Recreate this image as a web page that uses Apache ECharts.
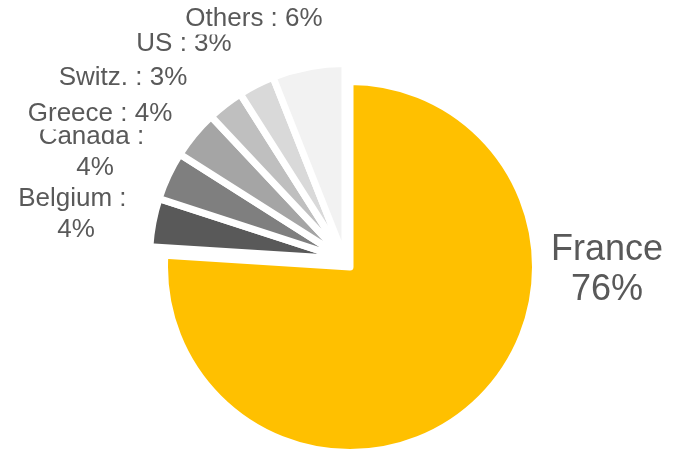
<!DOCTYPE html>
<html>
<head>
<meta charset="utf-8">
<script src="https://cdn.jsdelivr.net/npm/echarts@6/dist/echarts.min.js"></script>
<style>
  html, body { margin: 0; background: #fff; }
  #main { width: 679px; height: 449px; }
</style>
</head>
<body>
<div id="main"></div>
<script>
// data
const countries = ['France', 'Belgium', 'Canada', 'Greece', 'Switz.', 'US', 'Others'];
const shares = [76, 4, 4, 4, 3, 3, 6];
const colors = ['#FFC000', '#595959', '#7F7F7F', '#A5A5A5', '#BFBFBF', '#D9D9D9', '#F2F2F2'];
// label centres as placed in the reference
const labelSpots = [[607, 270], [76, 214], [95, 152], [100, 114], [123, 78], [184, 44], [254, 19]];

const chart = echarts.init(document.getElementById('main'));

// France is drawn by one ring, the small countries by a second (shifted) ring
function buildData(franceRing) {
  return countries.map((name, i) => {
    const item = { name: name, value: shares[i] };
    if ((i === 0) !== franceRing) {
      item.itemStyle = { color: 'rgba(0,0,0,0)', borderWidth: 0 };
      item.label = { show: false };
      return item;
    }
    item.itemStyle = { color: colors[i] };
    return item;
  });
}

const baseSeries = {
  type: 'pie',
  startAngle: 90,
  clockwise: true,
  silent: true,
  avoidLabelOverlap: false,
  emphasis: { disabled: true },
  itemStyle: { borderColor: '#fff', borderWidth: 7 },
  labelLine: { show: false },
  labelLayout: function (p) {
    const s = labelSpots[p.dataIndex];
    return { x: s[0], y: s[1], align: 'center', verticalAlign: 'middle' };
  }
};

chart.setOption({
  animation: false,
  series: [
    Object.assign({}, baseSeries, {
      center: [350, 267],
      radius: 185.5,
      label: {
        position: 'outside',
        color: '#595959',
        fontFamily: 'Liberation Sans, Arial, sans-serif',
        fontSize: 36,
        lineHeight: 40,
        align: 'center',
        formatter: p => p.name + '\n' + Math.round(p.percent) + '%'
      },
      data: buildData(true)
    }),
    Object.assign({}, baseSeries, {
      center: [345, 259],
      radius: 195.5,
      label: {
        position: 'outside',
        color: '#595959',
        fontFamily: 'Liberation Sans, Arial, sans-serif',
        fontSize: 26,
        lineHeight: 31,
        align: 'center',
        width: 147,
        overflow: 'break',
        backgroundColor: '#fff',
        formatter: p => p.name + ' : ' + Math.round(p.percent) + '%'
      },
      data: buildData(false)
    })
  ]
});
</script>
</body>
</html>
